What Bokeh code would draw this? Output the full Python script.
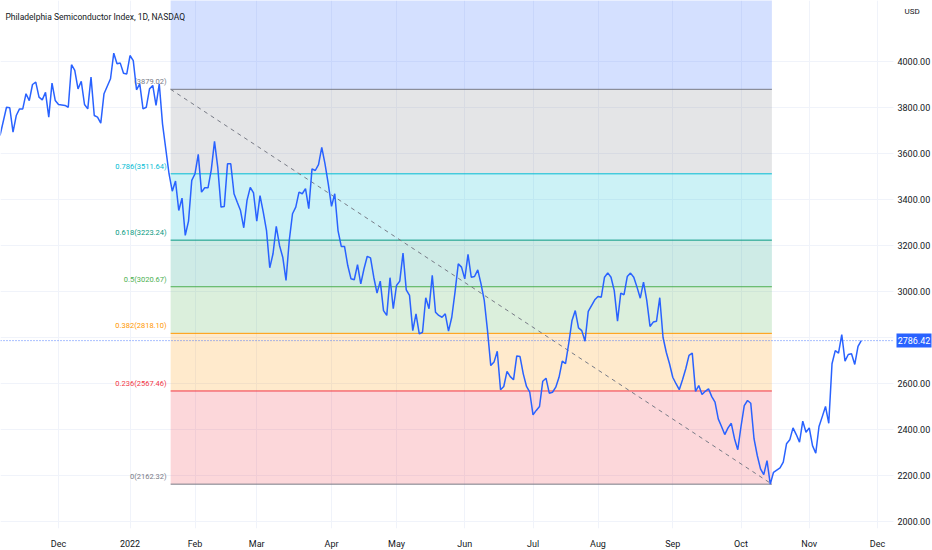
from bokeh.plotting import figure
from bokeh.models import Range1d, FixedTicker, Grid, ColumnDataSource
from bokeh.core.properties import value
from bokeh.embed import file_html
from bokeh.resources import INLINE

# ---------------- data ----------------
# trading-bar index (0 = 1 Dec 2021) and daily close of the index
bars = [-18, -16, -15, -14, -13, -12, -11, -10, -9, -8, -7, -6, -5, -4, -3, -2, -1, 0, 2, 3,
        4, 5, 6, 7, 8, 9, 10, 11, 12, 13, 14, 16, 17, 18, 19, 20, 21, 22, 23, 24,
        25, 26, 27, 28, 29, 30, 31, 32, 34, 35, 36, 37, 38, 39, 40, 41, 42, 43, 44, 45,
        46, 47, 48, 49, 50, 51, 52, 53, 54, 55, 56, 57, 58, 59, 60, 61, 62, 63, 64, 65,
        66, 67, 68, 69, 70, 71, 72, 73, 74, 75, 76, 77, 78, 79, 80, 81, 82, 83, 84, 85,
        86, 87, 88, 89, 90, 91, 92, 93, 94, 95, 96, 97, 98, 99, 100, 101, 102, 103, 104, 105,
        106, 107, 108, 109, 110, 111, 112, 113, 114, 115, 116, 117, 118, 119, 120, 121, 122, 123, 124, 125,
        126, 127, 128, 129, 130, 131, 132, 133, 134, 135, 136, 137, 138, 139, 140, 141, 142, 143, 144, 145,
        146, 147, 148, 149, 150, 151, 152, 153, 154, 155, 156, 157, 158, 159, 160, 161, 162, 163, 164, 165,
        166, 167, 168, 169, 170, 171, 172, 173, 174, 175, 176, 177, 178, 179, 180, 181, 182, 183, 184, 185,
        186, 187, 188, 189, 190, 191, 192, 193, 194, 195, 196, 197, 198, 199, 200, 201, 202, 203, 204, 205,
        206, 207, 208, 209, 210, 211, 212, 213, 214, 215, 216, 217, 218, 219, 220, 222, 223, 224, 225, 226,
        227, 228, 229, 230, 231, 232, 233, 234, 235, 236, 237, 238, 239, 240, 241, 242, 243, 244, 245, 246,
        247]
closes = [3678, 3801, 3799, 3693, 3765, 3794, 3794, 3860, 3830, 3900, 3910, 3845, 3833, 3866, 3758, 3906, 3830, 3813, 3809, 3801,
          3986, 3961, 3881, 3914, 3813, 3794, 3932, 3765, 3758, 3732, 3860, 3925, 4036, 3990, 3993, 3949, 3946, 4026, 4004, 3877,
          3903, 3794, 3801, 3881, 3896, 3809, 3903, 3729, 3512, 3436, 3480, 3352, 3406, 3244, 3306, 3483, 3512, 3596, 3432, 3451,
          3451, 3529, 3653, 3540, 3367, 3370, 3555, 3555, 3425, 3388, 3352, 3277, 3396, 3453, 3429, 3306, 3417, 3345, 3265, 3103,
          3164, 3283, 3200, 3149, 3048, 3222, 3338, 3367, 3432, 3425, 3447, 3360, 3533, 3526, 3552, 3627, 3555, 3468, 3370, 3425,
          3265, 3196, 3196, 3113, 3055, 3051, 3117, 3033, 3099, 3153, 3146, 3062, 2993, 3045, 2917, 2896, 3060, 2925, 3026, 3045,
          3167, 3007, 2983, 2830, 2903, 2816, 2823, 2973, 2925, 3070, 2910, 2896, 2888, 2903, 2828, 2888, 2997, 3120, 3106, 3055,
          3161, 3062, 3065, 3094, 3033, 2961, 2830, 2678, 2693, 2740, 2573, 2587, 2653, 2630, 2616, 2720, 2717, 2642, 2587, 2562,
          2464, 2483, 2500, 2610, 2623, 2558, 2562, 2584, 2627, 2697, 2686, 2775, 2874, 2917, 2842, 2830, 2784, 2914, 2939, 2964,
          2978, 2975, 3062, 3081, 3062, 3004, 2871, 2993, 2986, 3065, 3080, 3062, 3019, 2971, 3041, 2961, 2848, 2867, 2871, 2973,
          2801, 2736, 2686, 2627, 2599, 2573, 2616, 2664, 2722, 2732, 2566, 2591, 2552, 2566, 2577, 2543, 2519, 2446, 2413, 2378,
          2407, 2427, 2360, 2312, 2413, 2504, 2526, 2514, 2360, 2287, 2229, 2204, 2265, 2162.32, 2214, 2233, 2258, 2338, 2355, 2407,
          2378, 2345, 2436, 2388, 2407, 2330, 2297, 2413, 2456, 2500, 2427, 2686, 2743, 2732, 2813, 2697, 2726, 2729, 2683, 2761,
          2786.42]

month_bars = [0, 22, 42, 61, 84, 104, 125, 146, 166, 189, 210, 231, 252]
month_labels = ["Dec", "2022", "Feb", "Mar", "Apr", "May", "Jun", "Jul", "Aug", "Sep", "Oct", "Nov", "Dec"]
price_ticks = [2000, 2200, 2400, 2600, 2800, 3000, 3200, 3400, 3600, 3800, 4000]
price_labels = ["2000.00", "2200.00", "2400.00", "2600.00", "2800.00", "3000.00",
                "3200.00", "3400.00", "3600.00", "3800.00", "4000.00"]

# Fibonacci retracement anchors (bar index, price)
fib_start_bar, fib_high = 34.5, 3879.02
fib_end_bar, fib_low = 219.5, 2162.32
fib_ratios = [0, 0.236, 0.382, 0.5, 0.618, 0.786, 1, 1.618]
fib_colors = ["#787b86", "#f23645", "#ff9800", "#4caf50", "#089981", "#00bcd4", "#787b86", "#2962ff"]
fib_labels = ["0(2162.32)", "0.236(2567.46)", "0.382(2818.10)", "0.5(3020.67)",
              "0.618(3223.24)", "0.786(3511.64)", "(3879.02)"]

title_text = "Philadelphia Semiconductor Index, 1D, NASDAQ"
currency = "USD"

# ---------------- figure ----------------
FONT = "Roboto"
FW, FH = 932, 528
x0, x1 = -17.85, -17.85 + FW / 3.25
y1 = 4265.2
y0 = y1 - FH / 0.23
px_x = (x1 - x0) / FW
px_y = (y1 - y0) / FH


def X(px):
    return x0 + px * px_x


def Y(py):
    return y1 - py * px_y


p = figure(frame_width=FW, frame_height=FH, x_range=Range1d(x0, x1), y_range=Range1d(y0, y1),
           y_axis_location=None, toolbar_location=None, output_backend="svg",
           min_border_left=0, min_border_top=0, min_border_right=0, min_border_bottom=0)
p.outline_line_color = None
p.background_fill_color = "white"
p.border_fill_color = "white"

ax = p.xaxis
ax.axis_line_color = None
ax.major_tick_line_color = None
ax.minor_tick_line_color = None
ax.major_label_text_font = FONT
ax.major_label_text_font_size = "9px"
ax.major_label_text_color = "#131722"
ax.ticker = FixedTicker(ticks=month_bars)
ax.major_label_overrides = {b: l for b, l in zip(month_bars, month_labels)}
ax.major_label_standoff = 4
p.xgrid.grid_line_color = "#f0f3fa"
p.ygrid.grid_line_color = None
p.add_layout(Grid(dimension=1, ticker=FixedTicker(ticks=price_ticks), grid_line_color="#f0f3fa"))

# fib levels
rng = fib_high - fib_low
levels = [fib_low + r * rng for r in fib_ratios]

bands = ColumnDataSource(dict(
    left=[fib_start_bar] * (len(levels) - 1),
    right=[fib_end_bar] * (len(levels) - 1),
    bottom=levels[:-1], top=levels[1:], color=fib_colors[1:]))
p.quad(left="left", right="right", bottom="bottom", top="top", fill_color="color",
       fill_alpha=0.2, line_color=None, source=bands)

lines = ColumnDataSource(dict(
    x0=[fib_start_bar] * len(levels), x1=[fib_end_bar] * len(levels),
    y=levels, color=fib_colors))
p.segment(x0="x0", x1="x1", y0="y", y1="y", line_color="color", line_width=1, source=lines)

p.line([fib_start_bar, fib_end_bar], [fib_high, fib_low], line_color="#787b86",
       line_dash="4 4", line_width=1)

lab_src = ColumnDataSource(dict(
    x=[fib_start_bar - 4 * px_x] * len(fib_labels),
    y=[l + 3 * px_y for l in levels[:len(fib_labels)]],
    text=fib_labels, color=fib_colors[:len(fib_labels)]))
p.text(x="x", y="y", text="text", text_color="color", text_align="right",
       text_baseline="bottom", text_font=value(FONT), text_font_size="7.5px", source=lab_src)

# last price dotted line
last = closes[-1]
p.segment(x0=[x0], x1=[X(893)], y0=[last], y1=[last], line_color="#2962ff",
          line_dash="1 2", line_width=1, line_alpha=0.8)

# price line
p.line(bars, closes, line_color="#2962ff", line_width=1.5)

# price scale strip on the right
p.quad(left=[X(893)], right=[x1], bottom=[y0], top=[y1], fill_color="white", line_color=None)
p.text(x=[X(897)] * len(price_ticks), y=price_ticks, text=price_labels,
       text_font=value(FONT), text_font_size="9px", text_color="#131722",
       text_baseline="middle", text_align="left")
p.text(x=[X(904)], y=[Y(11)], text=[currency], text_font=value(FONT),
       text_font_size="8px", text_color="#131722", text_baseline="middle", text_align="left")
p.quad(left=[X(896)], right=[X(931)], bottom=[last - 7 * px_y], top=[last + 7 * px_y],
       fill_color="#2962ff", line_color=None)
p.text(x=[X(913.5)], y=[last], text=[f"{last:.2f}"], text_font=value(FONT),
       text_font_size="9px", text_color="white", text_baseline="middle", text_align="center")

# title
p.text(x=[X(5)], y=[Y(16)], text=[title_text], text_font=value(FONT), text_font_size="8.5px",
       text_color="#131722", text_baseline="middle", text_align="left")

open("out.html", "w").write(file_html(p, INLINE))
